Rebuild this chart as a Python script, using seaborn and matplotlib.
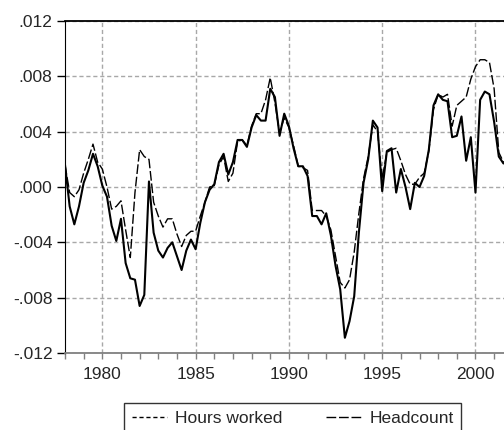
import numpy as np
import pandas as pd
import matplotlib
matplotlib.use("Agg")
import matplotlib.pyplot as plt
import seaborn as sns
from matplotlib.lines import Line2D
from matplotlib.ticker import FuncFormatter, MultipleLocator

# quarterly data, 1978Q1 - 2001Q3
hours_worked = [
    0.0016, -0.0014, -0.0027, -0.0014,
    0.0003, 0.0012, 0.0024, 0.0015,
    0.0001, -0.0007, -0.0028, -0.0039,
    -0.0023, -0.0055, -0.0066, -0.0067,
    -0.0086, -0.0078, 0.0004, -0.0033,
    -0.0046, -0.0051, -0.0044, -0.0040,
    -0.0050, -0.0060, -0.0046, -0.0038,
    -0.0045, -0.0026, -0.0011, -0.0002,
    0.0002, 0.0018, 0.0024, 0.0009,
    0.0018, 0.0034, 0.0034, 0.0029,
    0.0043, 0.0052, 0.0048, 0.0048,
    0.0071, 0.0065, 0.0037, 0.0053,
    0.0044, 0.0028, 0.0015, 0.0015,
    0.0008, -0.0021, -0.0021, -0.0027,
    -0.0019, -0.0035, -0.0057, -0.0074,
    -0.0109, -0.0097, -0.0079, -0.0033,
    0.0003, 0.0020, 0.0048, 0.0043,
    -0.0003, 0.0026, 0.0028, -0.0004,
    0.0013, 0.0000, -0.0016, 0.0003,
    0.0000, 0.0008, 0.0027, 0.0059,
    0.0067, 0.0063, 0.0062, 0.0036,
    0.0037, 0.0051, 0.0019, 0.0036,
    -0.0004, 0.0063, 0.0069, 0.0067,
    0.0047, 0.0022, 0.0017,
]
headcount = [
    0.0016, -0.0004, -0.0007, -0.0002,
    0.0010, 0.0020, 0.0031, 0.0018,
    0.0013, 0.0000, -0.0016, -0.0014,
    -0.0010, -0.0031, -0.0051, -0.0004,
    0.0027, 0.0022, 0.0020, -0.0011,
    -0.0021, -0.0029, -0.0023, -0.0023,
    -0.0034, -0.0043, -0.0035, -0.0032,
    -0.0032, -0.0021, -0.0011, 0.0000,
    0.0001, 0.0016, 0.0022, 0.0004,
    0.0010, 0.0033, 0.0034, 0.0030,
    0.0044, 0.0053, 0.0053, 0.0063,
    0.0079, 0.0061, 0.0039, 0.0050,
    0.0043, 0.0030, 0.0015, 0.0014,
    0.0012, -0.0017, -0.0017, -0.0017,
    -0.0021, -0.0031, -0.0050, -0.0069,
    -0.0073, -0.0067, -0.0047, -0.0019,
    0.0006, 0.0022, 0.0045, 0.0040,
    0.0006, 0.0025, 0.0027, 0.0028,
    0.0019, 0.0009, 0.0002, 0.0002,
    0.0007, 0.0010, 0.0026, 0.0056,
    0.0067, 0.0065, 0.0067, 0.0044,
    0.0059, 0.0062, 0.0065, 0.0078,
    0.0087, 0.0092, 0.0092, 0.0090,
    0.0071, 0.0025, 0.0018,
]
start_year = 1978
x_ticks = [1980, 1985, 1990, 1995, 2000]
y_ticks = [-0.012, -0.008, -0.004, 0.0, 0.004, 0.008, 0.012]

dates = start_year + np.arange(len(hours_worked)) * 0.25
df = pd.DataFrame({"date": dates, "hours": hours_worked, "head": headcount})

sns.set_style("white")
plt.rcParams['font.family'] = ['Liberation Sans', 'DejaVu Sans']

fig = plt.figure(figsize=(5.04, 4.30), dpi=100)
ax = fig.add_axes([65 / 504, 77 / 430, 445 / 504, 332 / 430])

sns.lineplot(data=df, x="date", y="head", ax=ax, color="black", lw=1.0,
             dashes=False, linestyle=(0, (7, 2)))
sns.lineplot(data=df, x="date", y="hours", ax=ax, color="black", lw=1.5)

ax.set_xlim(start_year, 2001.85)
ax.set_ylim(-0.012, 0.012)
ax.set_xticks(x_ticks)
ax.xaxis.set_minor_locator(MultipleLocator(1))
ax.set_yticks(y_ticks)
ax.yaxis.set_major_formatter(FuncFormatter(lambda v, p: f"{v:.3f}".replace("0.", ".")))
ax.set_xlabel("")
ax.set_ylabel("")

ax.grid(True, color="#a8a8a8", linestyle=(0, (3, 2)), lw=1.0)
ax.tick_params(axis="y", which="major", direction="out", length=6, width=1,
               color="black", labelsize=12.5, pad=3, left=True)
ax.tick_params(axis="x", which="both", direction="out", length=4, width=1,
               color="#808080", labelsize=12.5, pad=6, bottom=True)

ax.spines["left"].set_color("black")
ax.spines["top"].set_color("black")
ax.spines["top"].set_linewidth(1.3)
ax.spines["bottom"].set_color("#808080")
ax.spines["bottom"].set_linewidth(1.3)
ax.spines["right"].set_visible(False)

handles = [
    Line2D([], [], color="black", lw=1.0, linestyle=(0, (3, 2))),
    Line2D([], [], color="black", lw=1.0, linestyle=(0, (7, 2))),
]
leg = fig.legend(handles, ["Hours worked", "Headcount"], ncol=2,
                 loc="upper left", bbox_to_anchor=(124 / 504, 1 - 403 / 430),
                 frameon=True, fancybox=False, fontsize=12.5,
                 handlelength=2.0, handletextpad=0.5, columnspacing=2.5,
                 borderpad=0.45, borderaxespad=0)
leg.get_frame().set_edgecolor("black")
leg.get_frame().set_linewidth(1.0)

fig.savefig("out.png", dpi=100)
